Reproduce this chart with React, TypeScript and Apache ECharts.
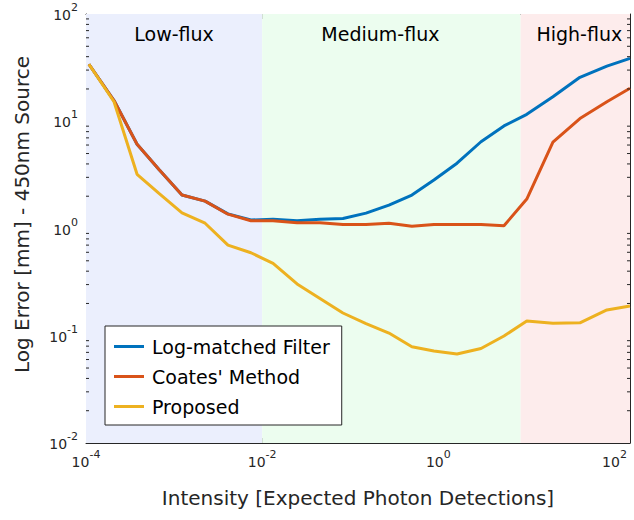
import React, { useEffect, useRef } from 'react';
import * as echarts from 'echarts';

const intensity = [1.08e-4, 2.08e-4, 3.8e-4, 6.74e-4, 1.23e-3, 2.25e-3, 4.09e-3, 7.46e-3, 1.33e-2, 2.49e-2, 4.53e-2, 8.26e-2, 0.151, 0.275, 0.501, 0.891, 1.63, 3.05, 5.56, 10.1, 20.0, 40.5, 82.0, 150];
const logMatched = [34, 15.6, 6.1, 3.55, 2.05, 1.8, 1.37, 1.2, 1.22, 1.18, 1.22, 1.24, 1.39, 1.65, 2.05, 2.83, 4.06, 6.44, 9.04, 11.6, 16.9, 25.7, 32.7, 38.6];
const coates = [34, 15.6, 6.1, 3.55, 2.05, 1.8, 1.36, 1.18, 1.18, 1.13, 1.13, 1.09, 1.09, 1.12, 1.05, 1.09, 1.09, 1.09, 1.06, 1.88, 6.4, 10.6, 15.2, 20.3];
const proposed = [34, 15.2, 3.2, 2.13, 1.4, 1.12, 0.7, 0.594, 0.473, 0.304, 0.223, 0.163, 0.13, 0.106, 0.079, 0.072, 0.0676, 0.076, 0.0995, 0.137, 0.131, 0.132, 0.174, 0.189];

const seriesNames = ['Log-matched Filter', "Coates' Method", 'Proposed'];
const seriesColors = ['#0072BD', '#D95319', '#EDB120'];

const regionNames = ['Low-flux', 'Medium-flux', 'High-flux'];
const regionBounds = [1e-4, 1e-2, 8.6, 150];
const regionColors = ['rgb(235,239,253)', 'rgb(236,253,239)', 'rgb(253,236,236)'];
const regionLabelOffsets = [0, -11, 4];

const xMin = 1e-4;
const xMax = 150;
const yMin = 1e-2;
const yMax = 1e2;
const yMinorTicks = [0.02, 0.03, 0.04, 0.05, 0.06, 0.07, 0.08, 0.09, 0.2, 0.3, 0.4, 0.5, 0.6, 0.7, 0.8, 0.9, 2, 3, 4, 5, 6, 7, 8, 9, 20, 30, 40, 50, 60, 70, 80, 90];

const FONT = "'DejaVu Sans', 'Liberation Sans', Arial, sans-serif";
const AX = '#262626';

const expFormatter = (v: number) => {
  const e = Math.log10(v);
  const r = Math.round(e);
  if (Math.abs(e - r) > 1e-6) return '';
  return `{b|10}{s|${r}}`;
};
const rich = {
  b: { fontSize: 14, fontFamily: FONT, color: AX, lineHeight: 16, verticalAlign: 'bottom' },
  s: { fontSize: 11, fontFamily: FONT, color: AX, lineHeight: 12, verticalAlign: 'bottom', padding: [0, 0, 9, 0] },
};

export default function App() {
  const ref = useRef<HTMLDivElement>(null);
  useEffect(() => {
    document.body.style.margin = '0';
    if (!ref.current) return;
    const chart = echarts.init(ref.current, undefined, { renderer: 'svg' });
    const lineSeries = seriesNames.map((name, k) => {
      const vals = [logMatched, coates, proposed][k];
      return {
        name,
        type: 'line',
        data: intensity.map((x, i) => [x, vals[i]]),
        symbol: 'none',
        z: 3 + k,
        lineStyle: { color: seriesColors[k], width: 3 },
        itemStyle: { color: seriesColors[k] },
      };
    });
    const areaData = regionNames.map((name, i) => [
      {
        name,
        xAxis: regionBounds[i],
        itemStyle: { color: regionColors[i] },
        label: { offset: [regionLabelOffsets[i], 0] },
      },
      { xAxis: regionBounds[i + 1] },
    ]);
    const baseX = {
      type: 'log',
      logBase: 10,
      min: xMin,
      max: xMax,
      interval: 2,
      splitLine: { show: false },
      axisLine: { show: true, onZero: false, lineStyle: { color: AX, width: 1 } },
      axisTick: { show: true, inside: true, length: 5, lineStyle: { color: AX, width: 1 } },
    };
    const baseY = {
      type: 'log',
      logBase: 10,
      min: yMin,
      max: yMax,
      interval: 1,
      splitLine: { show: false },
      axisLine: { show: true, onZero: false, lineStyle: { color: AX, width: 1 } },
      axisTick: { show: true, inside: true, length: 5, lineStyle: { color: AX, width: 1 } },
    };
    chart.setOption({
      animation: false,
      backgroundColor: '#fff',
      textStyle: { fontFamily: FONT },
      grid: { left: 86, top: 14, right: 4, bottom: 77, containLabel: false },
      legend: {
        data: seriesNames,
        orient: 'vertical',
        left: 105,
        top: 326,
        backgroundColor: '#fff',
        borderColor: AX,
        borderWidth: 1,
        borderRadius: 0,
        padding: [11, 12, 9, 9],
        itemWidth: 30,
        itemHeight: 20,
        itemGap: 11,
        icon: 'path://M0,0 L30,0 L30,3 L0,3 Z',
        textStyle: { fontSize: 19, color: '#000', fontFamily: FONT, padding: [0, 0, 0, 3] },
      },
      xAxis: [
        {
          ...baseX,
          position: 'bottom',
          axisLabel: { margin: 10, formatter: expFormatter, rich },
          name: 'Intensity [Expected Photon Detections]',
          nameLocation: 'middle',
          nameGap: 45,
          nameTextStyle: { fontSize: 20, color: AX, fontFamily: FONT },
        },
        { ...baseX, position: 'top', axisLabel: { show: false } },
      ],
      yAxis: [
        {
          ...baseY,
          position: 'left',
          axisLabel: { margin: 8, formatter: expFormatter, rich },
          name: 'Log Error [mm] - 450nm Source',
          nameLocation: 'middle',
          nameGap: 54,
          nameTextStyle: { fontSize: 20, color: AX, fontFamily: FONT, padding: [0, 0, 0, 28] },
        },
        { ...baseY, position: 'right', axisLabel: { show: false } },
      ],
      series: [
        {
          name: 'regions',
          type: 'line',
          data: [],
          z: 1,
          silent: true,
          markArea: {
            silent: true,
            label: { show: true, position: 'insideTop', distance: 10, fontSize: 19, color: '#000', fontFamily: FONT },
            data: areaData,
          },
        },
        ...lineSeries,
        {
          name: 'minorTicks',
          type: 'custom',
          silent: true,
          clip: false,
          z: 10,
          data: yMinorTicks.map((v) => [xMin, v]),
          encode: { x: 0, y: 1 },
          renderItem: (params: any, api: any) => {
            const v = api.value(1);
            const l = api.coord([xMin, v]);
            const r = api.coord([xMax, v]);
            return {
              type: 'group',
              children: [
                { type: 'line', shape: { x1: l[0], y1: l[1], x2: l[0] + 3, y2: l[1] }, style: { stroke: AX, lineWidth: 1 } },
                { type: 'line', shape: { x1: r[0] - 3, y1: r[1], x2: r[0], y2: r[1] }, style: { stroke: AX, lineWidth: 1 } },
              ],
            };
          },
        },
      ],
    });
    return () => chart.dispose();
  }, []);
  return <div ref={ref} style={{ width: 634, height: 520 }} />;
}
